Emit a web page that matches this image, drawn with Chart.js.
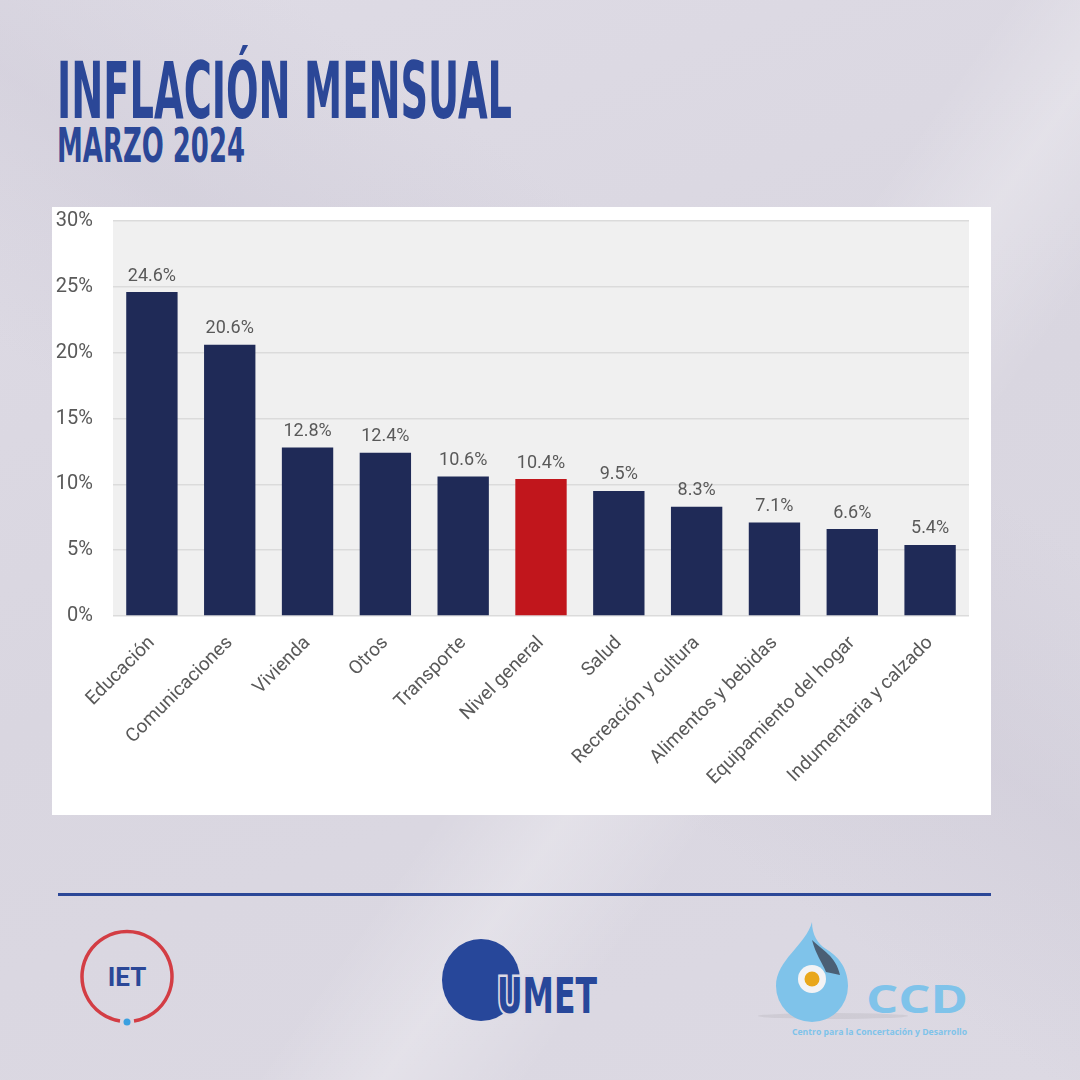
<!DOCTYPE html>
<html lang="es">
  <head>
    <meta charset="UTF-8" />
    <title>Inflación mensual - Marzo 2024</title>
    <script src="https://cdn.jsdelivr.net/npm/chart.js"></script>
    <style>
      body {
        margin: 0;
        padding: 0;
        width: 1080px;
        height: 1080px;
        overflow: hidden;
        position: relative;
        font-family: "Roboto", sans-serif;
        background:
          linear-gradient(125deg, rgba(255,255,255,0) 55%, rgba(255,255,255,0.25) 62%, rgba(255,255,255,0) 70%),
          linear-gradient(35deg, rgba(200,196,210,0) 40%, rgba(200,196,210,0.35) 55%, rgba(200,196,210,0) 70%),
          linear-gradient(160deg, #dedbe5 0%, #d9d6e0 50%, #dcd9e3 100%);
      }
      .title {
        position: absolute;
        left: 57px;
        font-family: "Liberation Sans Narrow", "DejaVu Sans Condensed", sans-serif;
        font-weight: bold;
        color: #2b4797;
        white-space: nowrap;
        transform-origin: left top;
        line-height: 1;
      }
      #t1 { top: 52px; font-size: 78px; }
      #t2 { top: 121px; font-size: 48px; }
      .card {
        position: absolute;
        left: 52px;
        top: 207px;
        width: 939px;
        height: 608px;
        background: #ffffff;
        overflow: hidden;
      }
      .card canvas {
        position: absolute;
        left: 0;
        top: -18px;
      }
      .rule {
        position: absolute;
        left: 58px;
        top: 893px;
        width: 933px;
        height: 3px;
        background: #2b4797;
      }
      svg.logos {
        position: absolute;
        left: 0;
        top: 900px;
      }
    </style>
  </head>
  <body>
    <div class="title" id="t1">INFLACIÓN MENSUAL</div>
    <div class="title" id="t2">MARZO 2024</div>

    <div class="card">
      <canvas id="inflacionChart" width="939" height="626"></canvas>
    </div>

    <div class="rule"></div>

    <svg class="logos" width="1080" height="180" viewBox="0 900 1080 180">
      <!-- IET -->
      <path d="M 120 1021 A 45 45 0 1 1 134 1021" fill="none" stroke="#d33d44" stroke-width="3.5" />
      <circle cx="127" cy="1022" r="3.5" fill="#3aa0e0" />
      <text x="127" y="986" text-anchor="middle" font-family="Roboto" font-weight="bold"
        font-size="26" fill="#2b4797">IET</text>

      <!-- UMET -->
      <ellipse cx="481" cy="980" rx="39" ry="41" fill="#27479a" />
      <text x="497" y="1013" font-family="Liberation Sans Narrow, DejaVu Sans Condensed" font-weight="bold"
        font-size="50" fill="#27479a" stroke="#dcd9e3" stroke-width="5" paint-order="stroke"
        textLength="100" lengthAdjust="spacingAndGlyphs">UMET</text>

      <!-- CCD -->
      <ellipse cx="833" cy="1016" rx="75" ry="3" fill="#c9c6cf" opacity="0.7" />
      <path d="M 812 922 C 806 945 776 960 776 986 A 36 36 0 0 0 848 986 C 848 966 836 955 826 949 C 818 944 812 935 812 922 Z"
        fill="#7fc3ea" />
      <path d="M 812 940 C 822 950 836 956 840 975 L 826 972 C 822 962 816 955 812 940 Z" fill="#3d4658" opacity="0.8" />
      <circle cx="812" cy="979" r="14" fill="#f3f3f5" />
      <circle cx="812" cy="979" r="7.5" fill="#e9a71b" />
      <text x="866" y="1013" font-family="Open Sans, Roboto" font-weight="bold" font-size="40"
        fill="#7fc3ea" textLength="102" lengthAdjust="spacingAndGlyphs">CCD</text>
      <text x="792" y="1035" font-family="Open Sans, Roboto" font-weight="bold" font-size="9.5"
        fill="#7fc3ea" textLength="175" lengthAdjust="spacingAndGlyphs">Centro para la Concertación y Desarrollo</text>
    </svg>

    <script>
      // Datos (variación % mensual, marzo 2024)
      const categorias = [
        "Educación",
        "Comunicaciones",
        "Vivienda",
        "Otros",
        "Transporte",
        "Nivel general",
        "Salud",
        "Recreación y cultura",
        "Alimentos y bebidas",
        "Equipamiento del hogar",
        "Indumentaria y calzado",
      ];
      const valores = [24.6, 20.6, 12.8, 12.4, 10.6, 10.4, 9.5, 8.3, 7.1, 6.6, 5.4];
      const ticksY = [0, 5, 10, 15, 20, 25, 30];

      const AZUL = "#1f2a57";
      const ROJO = "#c1161c";
      const GRIS_TEXTO = "#595959";

      // ajustar ancho de los títulos condensados
      function fitWidth(id, target) {
        const el = document.getElementById(id);
        const w = el.getBoundingClientRect().width;
        el.style.transform = "scaleX(" + target / w + ")";
      }
      fitWidth("t1", 455);
      fitWidth("t2", 188);

      // fondo gris del área de trazado
      const plotBackground = {
        id: "plotBackground",
        beforeDraw(chart) {
          const { ctx, chartArea } = chart;
          ctx.save();
          ctx.fillStyle = "#f0f0f0";
          ctx.fillRect(chartArea.left, chartArea.top, chartArea.right - chartArea.left, chartArea.bottom - chartArea.top);
          ctx.restore();
        },
      };

      // etiquetas de valor sobre cada barra
      const valueLabels = {
        id: "valueLabels",
        afterDatasetsDraw(chart) {
          const { ctx } = chart;
          const meta = chart.getDatasetMeta(0);
          ctx.save();
          ctx.font = "18px Roboto";
          ctx.fillStyle = GRIS_TEXTO;
          ctx.textAlign = "center";
          ctx.textBaseline = "bottom";
          meta.data.forEach((bar, i) => {
            ctx.fillText(valores[i].toFixed(1) + "%", bar.x, bar.y - 7);
          });
          ctx.restore();
        },
      };

      const ctx = document.getElementById("inflacionChart").getContext("2d");
      new Chart(ctx, {
        type: "bar",
        data: {
          labels: categorias,
          datasets: [
            {
              data: valores,
              backgroundColor: categorias.map((c) => (c === "Nivel general" ? ROJO : AZUL)),
              borderWidth: 0,
              categoryPercentage: 1,
              barPercentage: 0.66,
            },
          ],
        },
        options: {
          responsive: false,
          animation: false,
          devicePixelRatio: 1,
          layout: { padding: { top: 0, right: 22, bottom: 0, left: 0 } },
          plugins: {
            legend: { display: false },
            tooltip: { enabled: false },
          },
          scales: {
            x: {
              grid: { display: false },
              border: { display: false },
              ticks: {
                color: GRIS_TEXTO,
                font: { family: "Roboto", size: 19 },
                maxRotation: 45,
                minRotation: 45,
                padding: 8,
                autoSkip: false,
              },
              afterFit(axis) {
                axis.height = 199;
              },
            },
            y: {
              min: 0,
              max: 30,
              afterBuildTicks(axis) {
                axis.ticks = ticksY.map((v) => ({ value: v }));
              },
              grid: { color: "#dbdbdb", lineWidth: 1.5, drawTicks: false },
              border: { display: false },
              ticks: {
                color: GRIS_TEXTO,
                font: { family: "Roboto", size: 20 },
                padding: 20,
                callback: (v) => v + "%",
              },
              afterFit(axis) {
                axis.width = 61;
              },
            },
          },
        },
        plugins: [plotBackground, valueLabels],
      });
    </script>
  </body>
</html>
